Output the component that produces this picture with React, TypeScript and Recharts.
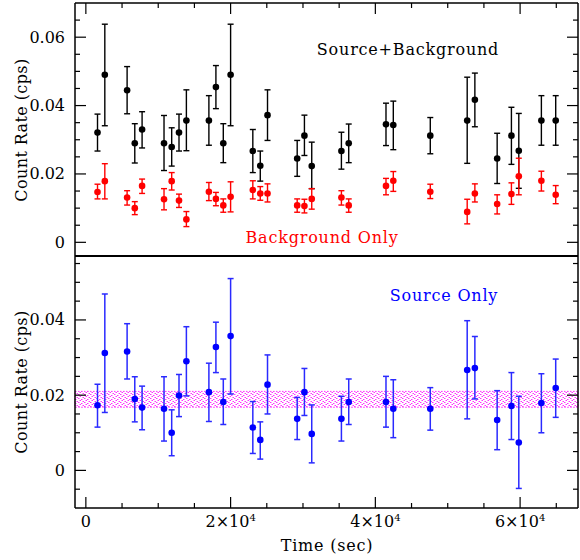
import { ScatterChart, Scatter, XAxis, YAxis, ErrorBar, ReferenceArea } from 'recharts';

// bin centre times (sec), shared by all three series
const times = [
  1610, 2620, 5700, 6760, 7770, 10800, 11860, 12870, 13890, 17000, 17970, 18990, 20000,
  23070, 24100, 25100, 29200, 30200, 31210, 35310, 36320, 41470, 42480, 47590,
  52690, 53750, 56830, 58800, 59820, 62940, 64920,
];

// source + background (black)
const totRate = [
  0.0321, 0.049, 0.0445, 0.029, 0.033, 0.029, 0.0279, 0.0321, 0.0356, 0.0356, 0.0454, 0.029, 0.049,
  0.0267, 0.0224, 0.0372, 0.0245, 0.0312, 0.0223, 0.0267, 0.029, 0.0345, 0.0343, 0.0312,
  0.0356, 0.0417, 0.0245, 0.0312, 0.0268, 0.0356, 0.0356,
];
const totHigh = [
  0.0375, 0.0638, 0.0514, 0.0347, 0.0382, 0.0371, 0.0335, 0.0375, 0.0446, 0.0429, 0.0517, 0.0347, 0.0638,
  0.033, 0.0267, 0.0446, 0.0298, 0.0372, 0.0293, 0.0322, 0.0346, 0.0407, 0.0413, 0.0365,
  0.0483, 0.0495, 0.0319, 0.0395, 0.0377, 0.0429, 0.0429,
];
const totLow = [
  0.0267, 0.0341, 0.0376, 0.0232, 0.0276, 0.021, 0.0223, 0.0267, 0.0268, 0.0284, 0.0391, 0.0233, 0.0341,
  0.0204, 0.0179, 0.0298, 0.0193, 0.0254, 0.0157, 0.0214, 0.0233, 0.0283, 0.0271, 0.0259,
  0.0231, 0.0338, 0.0172, 0.0228, 0.0158, 0.0284, 0.0284,
];

// background only (red)
const bkgRate = [
  0.0147, 0.0179, 0.0131, 0.01, 0.0165, 0.0126, 0.0179, 0.0122, 0.0067, 0.0148, 0.0127, 0.0108, 0.0133,
  0.0153, 0.0143, 0.0143, 0.0108, 0.0106, 0.0127, 0.0131, 0.0108, 0.0165, 0.018, 0.0148,
  0.0089, 0.0143, 0.0112, 0.0141, 0.0193, 0.018, 0.0139,
];
const bkgHigh = [
  0.017, 0.023, 0.0151, 0.0119, 0.0185, 0.0157, 0.0204, 0.0141, 0.009, 0.0175, 0.0146, 0.0127, 0.0177,
  0.018, 0.0163, 0.0171, 0.0127, 0.0126, 0.0157, 0.0151, 0.0127, 0.0187, 0.0207, 0.017,
  0.0126, 0.0171, 0.0139, 0.0174, 0.0246, 0.0208, 0.0166,
];
const bkgLow = [
  0.0127, 0.0127, 0.0109, 0.0081, 0.0143, 0.0095, 0.0153, 0.0102, 0.0046, 0.0122, 0.0107, 0.0088, 0.0089,
  0.0127, 0.0123, 0.0118, 0.0088, 0.0086, 0.0097, 0.0109, 0.0088, 0.0139, 0.0149, 0.0128,
  0.0054, 0.0118, 0.0083, 0.0111, 0.0139, 0.015, 0.0113,
];

// source only (blue)
const srcRate = [
  0.0173, 0.0312, 0.0316, 0.019, 0.0167, 0.0164, 0.01, 0.0199, 0.029, 0.0208, 0.0328, 0.0182, 0.0357,
  0.0114, 0.0081, 0.0228, 0.0137, 0.0208, 0.0097, 0.0137, 0.0182, 0.0182, 0.0164, 0.0164,
  0.0267, 0.0272, 0.0134, 0.0171, 0.0074, 0.0179, 0.0219,
];
const srcHigh = [
  0.0229, 0.0469, 0.039, 0.0249, 0.0224, 0.0249, 0.0161, 0.0255, 0.0382, 0.0285, 0.0394, 0.0243, 0.051,
  0.0183, 0.0129, 0.0307, 0.0194, 0.0271, 0.0174, 0.0197, 0.0243, 0.025, 0.0241, 0.022,
  0.0398, 0.0356, 0.0212, 0.026, 0.0197, 0.0257, 0.0296,
];
const srcLow = [
  0.0115, 0.0154, 0.0243, 0.0129, 0.0108, 0.0078, 0.0039, 0.0143, 0.0198, 0.013, 0.026, 0.0122, 0.0203,
  0.0045, 0.003, 0.015, 0.0082, 0.0146, 0.002, 0.0078, 0.0122, 0.0115, 0.0087, 0.0107,
  0.0137, 0.019, 0.0055, 0.0082, -0.0048, 0.01, 0.0141,
];

// mean source rate band
const bandLow = 0.0168;
const bandHigh = 0.021;

const xTicks = [0, 5000, 10000, 15000, 20000, 25000, 30000, 35000, 40000, 45000, 50000, 55000, 60000, 65000];
const topYTicks = [0, 0.005, 0.01, 0.015, 0.02, 0.025, 0.03, 0.035, 0.04, 0.045, 0.05, 0.055, 0.06, 0.065];
const botYTicks = [-0.005, 0, 0.005, 0.01, 0.015, 0.02, 0.025, 0.03, 0.035, 0.04, 0.045, 0.05, 0.055];

const FONT = '"DejaVu Serif", serif';

const rows = (rate: number[], hi: number[], lo: number[]) =>
  times.map((t, i) => ({ x: t, y: rate[i], err: [rate[i] - lo[i], hi[i] - rate[i]] }));

const totData = rows(totRate, totHigh, totLow);
const bkgData = rows(bkgRate, bkgHigh, bkgLow);
const srcData = rows(srcRate, srcHigh, srcLow);

const isMajor = (v: number, step: number) => Math.abs(v / step - Math.round(v / step)) < 1e-6;

const BottomXTick = ({ x, y, payload }: any) => {
  const v = payload.value;
  const major = isMajor(v, 20000);
  return (
    <g>
      <line x1={x} x2={x} y1={y} y2={y - (major ? 11 : 5)} stroke="#000" strokeWidth={1.2} />
      {major && (
        <text x={x} y={y + 19} textAnchor="middle" fontSize={16} fontFamily={FONT} fill="#000">
          {v === 0 ? '0' : <>{v / 10000}×10<tspan dy={-6} fontSize={10}>4</tspan></>}
        </text>
      )}
    </g>
  );
};

const TopXTick = ({ x, y, payload }: any) => {
  const major = isMajor(payload.value, 20000);
  return <line x1={x} x2={x} y1={y} y2={y + (major ? 11 : 5)} stroke="#000" strokeWidth={1.2} />;
};

const LeftYTick = ({ x, y, payload }: any) => {
  const v = payload.value;
  const major = isMajor(v, 0.02);
  return (
    <g>
      <line x1={x} x2={x + (major ? 11 : 5)} y1={y} y2={y} stroke="#000" strokeWidth={1.2} />
      {major && (
        <text x={x - 10} y={y + 5.5} textAnchor="end" fontSize={16} fontFamily={FONT} fill="#000">
          {v === 0 ? '0' : v.toFixed(2)}
        </text>
      )}
    </g>
  );
};

const RightYTick = ({ x, y, payload }: any) => {
  const major = isMajor(payload.value, 0.02);
  return <line x1={x} x2={x - (major ? 11 : 5)} y1={y} y2={y} stroke="#000" strokeWidth={1.2} />;
};

const dot = (color: string) => (p: any) => <circle cx={p.cx} cy={p.cy} r={3.3} fill={color} />;

const frame = { stroke: '#000', strokeWidth: 1.5 };

export default function App() {
  return (
    <div style={{ position: 'absolute', left: 0, top: 0, width: 580, height: 560, background: '#fff', fontFamily: FONT }}>
      <div style={{ position: 'absolute', left: 0, top: 0 }}>
        <ScatterChart width={580} height={257} margin={{ top: 2, right: 1, bottom: 1, left: 0 }}>
          <XAxis dataKey="x" type="number" orientation="top" domain={[-1500, 68000]} allowDataOverflow
            ticks={xTicks} interval={0} height={1} tickSize={0} tickMargin={0} tickLine={false}
            tick={TopXTick} axisLine={frame} />
          <YAxis dataKey="y" type="number" domain={[-0.004, 0.07]} allowDataOverflow width={75}
            ticks={topYTicks} interval={0} tickSize={0} tickMargin={0} tickLine={false}
            tick={LeftYTick} axisLine={frame} />
          <YAxis yAxisId="r" dataKey="y" type="number" orientation="right" domain={[-0.004, 0.07]} allowDataOverflow width={1}
            ticks={topYTicks} interval={0} tickSize={0} tickMargin={0} tickLine={false}
            tick={RightYTick} axisLine={frame} />
          <Scatter data={totData} dataKey="y" isAnimationActive={false} shape={dot('#000')}>
            <ErrorBar dataKey="err" direction="y" width={3} stroke="#000" strokeWidth={1.4} />
          </Scatter>
          <Scatter data={bkgData} dataKey="y" isAnimationActive={false} shape={dot('#ff0000')}>
            <ErrorBar dataKey="err" direction="y" width={3} stroke="#ff0000" strokeWidth={1.4} />
          </Scatter>
        </ScatterChart>
      </div>
      <div style={{ position: 'absolute', left: 0, top: 250 }}>
        <ScatterChart width={580} height={310} margin={{ top: 5, right: 1, bottom: 51, left: 0 }}>
          <XAxis dataKey="x" type="number" domain={[-1500, 68000]} allowDataOverflow
            ticks={xTicks} interval={0} height={1} tickSize={0} tickMargin={0} tickLine={false}
            tick={BottomXTick} axisLine={frame} />
          <XAxis xAxisId="t" dataKey="x" type="number" orientation="top" domain={[-1500, 68000]} allowDataOverflow
            height={1} tick={false} tickLine={false} axisLine={{ stroke: '#000', strokeWidth: 2.2 }} />
          <YAxis dataKey="y" type="number" domain={[-0.01, 0.057]} allowDataOverflow width={75}
            ticks={botYTicks} interval={0} tickSize={0} tickMargin={0} tickLine={false}
            tick={LeftYTick} axisLine={frame} />
          <YAxis yAxisId="r" dataKey="y" type="number" orientation="right" domain={[-0.01, 0.057]} allowDataOverflow width={1}
            ticks={botYTicks} interval={0} tickSize={0} tickMargin={0} tickLine={false}
            tick={RightYTick} axisLine={frame} />
          <ReferenceArea y1={bandLow} y2={bandHigh} fill="url(#magHatch)" fillOpacity={1}
            stroke="#ff33ff" strokeWidth={1} strokeDasharray="1.5 1.5" />
          <Scatter data={srcData} dataKey="y" isAnimationActive={false} shape={dot('#0000ff')}>
            <ErrorBar dataKey="err" direction="y" width={3} stroke="#2a2aff" strokeWidth={1.5} />
          </Scatter>
        </ScatterChart>
      </div>
      <svg width={580} height={560} style={{ position: 'absolute', left: 0, top: 0, pointerEvents: 'none' }}>
        <defs>
          <pattern id="magHatch" patternUnits="userSpaceOnUse" width={6} height={4}>
            <rect x={0} y={0} width={1.5} height={1} fill="#ff33ff" />
            <rect x={3} y={1} width={1.5} height={1} fill="#ff33ff" />
            <rect x={1.5} y={2} width={1.5} height={1} fill="#ff33ff" />
            <rect x={4.5} y={3} width={1.5} height={1} fill="#ff33ff" />
          </pattern>
        </defs>
        <g fontFamily={FONT} fontSize={16}>
          <text x={408} y={54.5} textAnchor="middle" fill="#000" letterSpacing={0.8}>Source+Background</text>
          <text x={322} y={243} textAnchor="middle" fill="#ff0000" letterSpacing={0.8}>Background Only</text>
          <text x={444} y={301} textAnchor="middle" fill="#0000ff" letterSpacing={0.8}>Source Only</text>
          <text x={327} y={551} textAnchor="middle" fill="#000" letterSpacing={0.8}>Time (sec)</text>
          <text transform="translate(27,130) rotate(-90)" textAnchor="middle" fill="#000" letterSpacing={0.4}>Count Rate (cps)</text>
          <text transform="translate(27,382) rotate(-90)" textAnchor="middle" fill="#000" letterSpacing={0.4}>Count Rate (cps)</text>
        </g>
      </svg>
    </div>
  );
}
